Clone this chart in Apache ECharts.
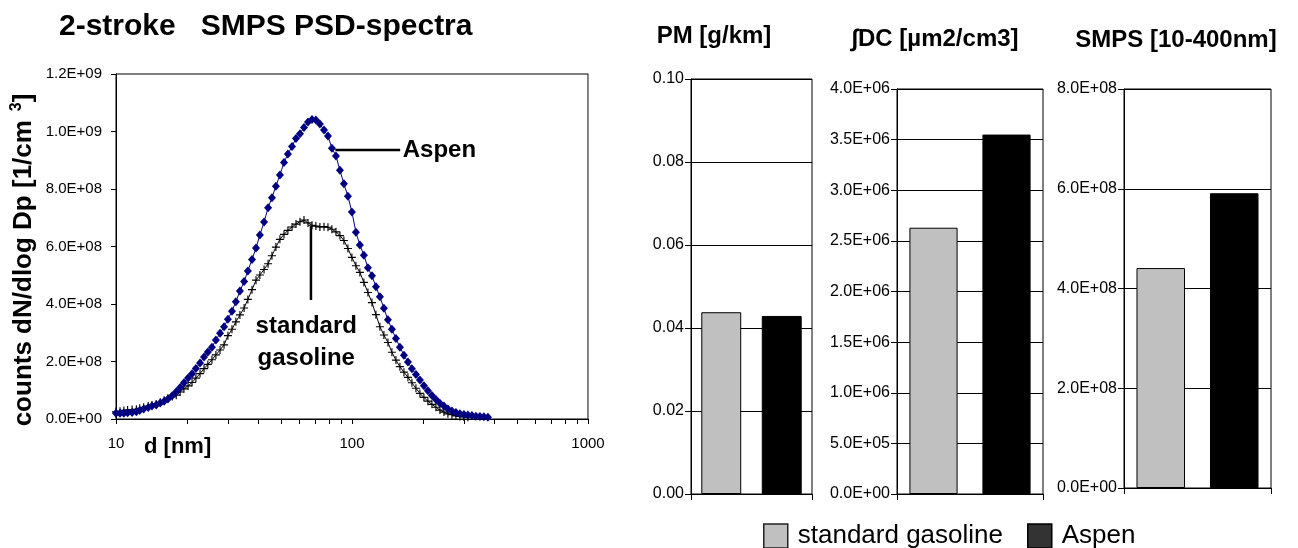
<!DOCTYPE html>
<html>
<head>
<meta charset="utf-8">
<script src="https://cdn.jsdelivr.net/npm/echarts@6/dist/echarts.min.js"></script>
<style>html,body{margin:0;padding:0;background:#fff;}#c{width:1298px;height:548px;}</style>
</head>
<body>
<div id="c"></div>
<script>
// ---------- data ----------
const diameterNm = [10.0,10.4,10.8,11.2,11.7,12.2,12.6,13.1,13.7,14.2,14.8,15.4,16.0,16.6,17.3,18.0,18.7,19.4,20.2,21.0,21.8,22.7,23.6,24.5,25.5,26.5,27.6,28.7,29.8,31.0,32.2,33.5,34.9,36.2,37.7,39.2,40.7,42.4,44.1,45.8,47.6,49.5,51.5,53.5,55.7,57.9,60.2,62.6,65.1,67.7,70.3,73.1,76.1,79.1,82.2,85.5,88.9,92.4,96.1,99.9,103.9,108.0,112.3,116.8,121.5,126.3,131.3,136.5,142.0,147.6,153.5,159.6,166.0,172.6,179.4,186.6,194.0,201.7,209.7,218.1,226.8,235.8,245.2,254.9,265.1,275.6,286.6,298.0,309.8,322.2,335.0,348.3,362.2,376.6];
// counts dN/dlogDp in units of 1E+08 per cm3
const aspenE8 = [0.20,0.20,0.20,0.22,0.23,0.25,0.30,0.35,0.40,0.45,
  0.49,0.56,0.62,0.70,0.81,0.95,1.10,1.26,1.43,1.57,
  1.76,1.95,2.16,2.33,2.50,2.75,2.98,3.21,3.47,3.75,
  4.08,4.45,4.78,5.15,5.55,5.95,6.40,6.85,7.35,7.70,
  8.10,8.49,8.92,9.22,9.48,9.76,9.92,10.14,10.33,10.42,
  10.40,10.26,10.05,9.84,9.42,9.15,8.65,8.18,7.75,7.20,
  6.50,6.05,5.70,5.26,4.98,4.60,4.25,3.85,3.45,3.12,
  2.80,2.50,2.22,1.98,1.75,1.55,1.36,1.16,0.98,0.82,
  0.68,0.55,0.45,0.35,0.28,0.23,0.18,0.16,0.14,0.12,
  0.10,0.09,0.08,0.06];
const gasolineE8 = [0.25,0.27,0.30,0.31,0.33,0.34,0.37,0.41,0.45,0.49,
  0.52,0.58,0.65,0.72,0.78,0.83,0.94,1.05,1.15,1.27,
  1.42,1.58,1.75,1.90,2.06,2.23,2.40,2.58,2.90,3.12,
  3.38,3.62,3.86,4.16,4.50,4.83,5.01,5.20,5.40,5.68,
  5.98,6.25,6.42,6.56,6.68,6.78,6.86,6.92,6.82,6.74,
  6.71,6.68,6.69,6.67,6.60,6.51,6.38,6.21,5.93,5.62,
  5.33,5.10,4.75,4.40,4.05,3.63,3.21,2.92,2.66,2.32,
  2.05,1.82,1.63,1.45,1.26,1.07,0.89,0.75,0.62,0.51,
  0.41,0.31,0.24,0.18,0.15,0.11,0.09,0.07,0.06];

const seriesNames = ['standard gasoline', 'Aspen'];
const pmValues = [0.0438, 0.0429];
const dcValues = [2.63e6, 3.55e6];
const smpsValues = [4.41e8, 5.91e8];

const xLabelValues = [10, 100, 1000];
const xTickValues = [10,20,30,40,50,60,70,80,90,100,200,300,400,500,600,700,800,900,1000];

const chartTitle = '2-stroke   SMPS PSD-spectra';
const barTitles = ['PM [g/km]', '\u222BDC [\u00B5m2/cm3]', 'SMPS [10-400nm]'];

// ---------- helpers ----------
const FONT = '"Liberation Sans", Arial, sans-serif';
const NARROW = '"Liberation Sans Narrow", "Arial Narrow", "Liberation Sans", sans-serif';
function expFmt(v) {
  if (v === 0) return '0.0E+00';
  const parts = v.toExponential(1).split('e');
  const n = parseInt(parts[1], 10);
  return parts[0] + 'E' + (n < 0 ? '-' : '+') + String(Math.abs(n)).padStart(2, '0');
}
const plusPath = 'path://M3,0h1v3h3v1h-3v3h-1v-3h-3v-1h3z';

const aspenData = diameterNm.slice(0, aspenE8.length).map((d, i) => [d, aspenE8[i] * 1e8]);
const gasData = diameterNm.slice(0, gasolineE8.length).map((d, i) => [d, gasolineE8[i] * 1e8]);

function barYAxis(gi, max, interval, fmt) {
  return {
    gridIndex: gi, type: 'value', min: 0, max: max, interval: interval,
    axisLine: { show: true, lineStyle: { color: '#000', width: 1 } },
    axisTick: { show: true, length: 6, lineStyle: { color: '#000' } },
    axisLabel: { formatter: fmt, fontSize: 16, fontFamily: NARROW, color: '#000', margin: 7 },
    splitLine: { show: true, lineStyle: { color: '#000', width: 1 } }
  };
}
function barXAxis(gi) {
  return {
    gridIndex: gi, type: 'category', data: seriesNames,
    axisLine: { show: true, lineStyle: { color: '#000' } },
    axisTick: { show: true, length: 6, lineStyle: { color: '#000' } },
    axisLabel: { show: false }, splitLine: { show: false }
  };
}
function barSeries(gi, yi, values) {
  return [
    { type: 'bar', name: seriesNames[0], xAxisIndex: gi, yAxisIndex: yi,
      data: [values[0], '-'], barWidth: '66%', barGap: '-100%',
      itemStyle: { color: '#c0c0c0', borderColor: '#000', borderWidth: 1 }, silent: true },
    { type: 'bar', name: seriesNames[1], xAxisIndex: gi, yAxisIndex: yi,
      data: ['-', values[1]], barWidth: '66%', barGap: '-100%',
      itemStyle: { color: '#000', borderColor: '#000', borderWidth: 1 }, silent: true }
  ];
}

const chart = echarts.init(document.getElementById('c'));
const option = {
  animation: false,
  backgroundColor: '#fff',
  grid: [
    { left: 116, top: 74, width: 472, height: 345, show: true, borderColor: '#000', borderWidth: 1 },
    { left: 691, top: 79, width: 121, height: 415, show: true, borderColor: '#000', borderWidth: 1 },
    { left: 897, top: 89, width: 146, height: 405, show: true, borderColor: '#000', borderWidth: 1 },
    { left: 1124, top: 89, width: 147, height: 399, show: true, borderColor: '#000', borderWidth: 1 }
  ],
  xAxis: [
    { gridIndex: 0, type: 'log', logBase: 10, min: 10, max: 1000,
      axisLine: { show: true, lineStyle: { color: '#000' } },
      axisTick: { show: true, length: 5, customValues: xTickValues, lineStyle: { color: '#000' } },
      axisLabel: { customValues: xLabelValues, formatter: v => String(Math.round(v)), fontSize: 15, fontFamily: FONT, color: '#000', margin: 17 },
      minorTick: { show: false }, splitLine: { show: false } },
    barXAxis(1), barXAxis(2), barXAxis(3)
  ],
  yAxis: [
    { gridIndex: 0, type: 'value', min: 0, max: 1.2e9, interval: 2e8,
      axisLine: { show: true, lineStyle: { color: '#000' } },
      axisTick: { show: true, length: 5, lineStyle: { color: '#000' } },
      axisLabel: { formatter: expFmt, fontSize: 15, fontFamily: FONT, color: '#000', margin: 14 },
      splitLine: { show: false } },
    { gridIndex: 0, type: 'value', position: 'right', min: 0, max: 1.2e9,
      axisLine: { show: true, lineStyle: { color: '#888' } },
      axisTick: { show: false }, axisLabel: { show: false }, splitLine: { show: false } },
    barYAxis(1, 0.1, 0.02, v => v.toFixed(2)),
    barYAxis(2, 4e6, 5e5, expFmt),
    barYAxis(3, 8e8, 2e8, expFmt)
  ],
  legend: {
    left: 763, top: 523, padding: 0, itemWidth: 24, itemHeight: 24, itemGap: 24,
    icon: 'rect', selectedMode: false,
    textStyle: { fontSize: 26, fontFamily: FONT, color: '#000', padding: [0, 0, 0, 5] },
    data: [
      { name: seriesNames[0], itemStyle: { color: '#c0c0c0', borderColor: '#222', borderWidth: 1.5 } },
      { name: seriesNames[1], itemStyle: { color: '#333', borderColor: '#000', borderWidth: 1.5 } }
    ]
  },
  series: [
    { type: 'line', name: 'gasoline PSD', xAxisIndex: 0, yAxisIndex: 0, data: gasData,
      symbol: plusPath, symbolSize: 8, showSymbol: true,
      itemStyle: { color: '#000' }, lineStyle: { color: '#000', width: 1 }, silent: true, z: 3 },
    { type: 'line', name: 'Aspen PSD', xAxisIndex: 0, yAxisIndex: 0, data: aspenData,
      symbol: 'diamond', symbolSize: [8, 9], showSymbol: true,
      itemStyle: { color: '#000080' }, lineStyle: { color: '#000080', width: 1 }, silent: true, z: 4 }
  ].concat(barSeries(1, 2, pmValues), barSeries(2, 3, dcValues), barSeries(3, 4, smpsValues))
};
chart.setOption(option);

// ---------- annotations ----------
const P = (d, v) => chart.convertToPixel({ xAxisIndex: 0, yAxisIndex: 0 }, [d, v]);
const a0 = P(85, 9.36e8), a1 = P(160, 9.36e8), aT = P(164, 9.36e8);
const g0 = P(67, 6.71e8), g1 = P(67, 4.14e8), gT = P(64, 2.68e8);

const graphics = [
  { type: 'text', x: 59, y: 27, style: { text: chartTitle, font: 'bold 30px ' + FONT, fill: '#000', align: 'left', verticalAlign: 'middle' } },
  { type: 'text', x: 714, y: 36, style: { text: barTitles[0], font: 'bold 24px ' + FONT, fill: '#000', align: 'center', verticalAlign: 'middle' } },
  { type: 'text', x: 935, y: 39, style: { text: barTitles[1], font: 'bold 24px ' + FONT, fill: '#000', align: 'center', verticalAlign: 'middle' } },
  { type: 'text', x: 1176, y: 40, style: { text: barTitles[2], font: 'bold 24px ' + FONT, fill: '#000', align: 'center', verticalAlign: 'middle' } },
  { type: 'text', x: 144, y: 447, style: { text: 'd [nm]', font: 'bold 22px ' + FONT, fill: '#000', align: 'left', verticalAlign: 'middle' } },
  { type: 'text', x: 24, y: 260, rotation: Math.PI / 2,
    style: { text: '{n|counts dN/dlog Dp [1/cm}{s|  3}{n|]}', align: 'center', verticalAlign: 'middle',
      rich: { n: { font: 'bold 26px ' + FONT, fill: '#000', lineHeight: 30 },
              s: { font: 'bold 16px ' + FONT, fill: '#000', lineHeight: 30, verticalAlign: 'top' } } } },
  { type: 'line', shape: { x1: a0[0], y1: a0[1], x2: a1[0], y2: a1[1] }, style: { stroke: '#000', lineWidth: 2.5 } },
  { type: 'text', x: aT[0], y: aT[1], style: { text: 'Aspen', font: 'bold 24px ' + FONT, fill: '#000', align: 'left', verticalAlign: 'middle' } },
  { type: 'line', shape: { x1: g0[0], y1: g0[1], x2: g1[0], y2: g1[1] }, style: { stroke: '#000', lineWidth: 2.5 } },
  { type: 'text', x: gT[0], y: gT[1], style: { text: 'standard\ngasoline', font: 'bold 24px ' + FONT, fill: '#000', align: 'center', verticalAlign: 'middle', lineHeight: 32 } }
];
chart.setOption({ graphic: graphics });
</script>
</body>
</html>
